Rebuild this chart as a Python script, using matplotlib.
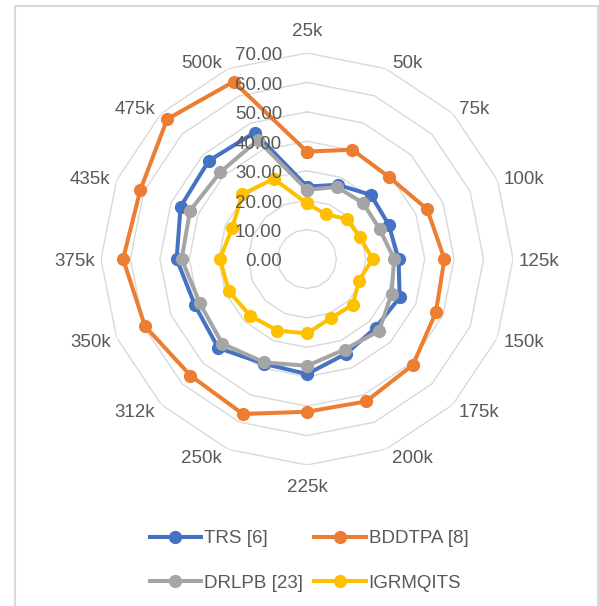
import numpy as np
import matplotlib
matplotlib.use('Agg')
import matplotlib.pyplot as plt
from matplotlib.patches import Rectangle

plt.rcParams['font.family'] = ['Liberation Sans', 'DejaVu Sans']

# 数据
categories = ['25k', '50k', '75k', '100k', '125k', '150k', '175k', '200k',
              '225k', '250k', '312k', '350k', '375k', '435k', '475k', '500k']
trs = [24.6, 27.3, 30.8, 30.1, 31.1, 34.1, 33.0, 34.8,
       39.1, 38.5, 42.7, 41.2, 44.3, 46.5, 47.2, 46.5]
bddtpa = [36.5, 40.2, 39.4, 44.2, 46.7, 47.4, 50.9, 52.4,
          51.9, 57.0, 56.0, 59.6, 62.5, 61.3, 67.2, 65.2]
drlpb = [23.5, 26.5, 26.9, 26.7, 29.6, 31.1, 34.6, 33.3,
         36.3, 38.0, 40.7, 39.4, 42.6, 43.0, 41.7, 43.7]
igrmqits = [18.9, 16.5, 19.2, 19.4, 22.3, 19.1, 22.0, 21.6,
            25.3, 26.3, 27.3, 28.7, 29.6, 27.5, 31.1, 29.5]
r_ticks = [0, 10, 20, 30, 40, 50, 60, 70]

series = [('TRS [6]', trs, '#4472C4'),
          ('BDDTPA [8]', bddtpa, '#ED7D31'),
          ('DRLPB [23]', drlpb, '#A5A5A5'),
          ('IGRMQITS', igrmqits, '#FFC000')]

n = len(categories)
theta = np.arange(n) * 2 * np.pi / n
theta_c = np.append(theta, theta[0])
rmax = r_ticks[-1]
txt_color = '#595959'
fs = 13.5

fig = plt.figure(figsize=(5.99, 6.06), dpi=100)
ax = fig.add_axes([101 / 599, 141 / 606, 412 / 599, 412 / 606], projection='polar')
ax.set_theta_zero_location('N')
ax.set_theta_direction(-1)
ax.set_ylim(0, rmax)
ax.grid(False)
ax.set_xticks([])
ax.set_yticks([])
ax.spines['polar'].set_visible(False)
ax.patch.set_alpha(0)

# 多边形网格
for v in r_ticks[1:]:
    ax.plot(theta_c, [v] * (n + 1), color='#D9D9D9', lw=1.0, zorder=1)

# 径向刻度标签
for v in r_ticks:
    ax.annotate(f'{v:.2f}', xy=(0, v), xytext=(-25, -3), textcoords='offset pixels',
                ha='right', va='center', fontsize=fs, color=txt_color, zorder=5)

# 分类标签
for t, lab in zip(theta, categories):
    s, c = np.sin(t), np.cos(t)
    if abs(s) < 0.1:
        ha = 'center'
        dx = 0
        dy = 21 if c > 0 else -23
    else:
        ha = 'left' if s > 0 else 'right'
        dx = 6 if s > 0 else -6
        dy = 8 * c - 2
    ax.annotate(lab, xy=(t, rmax), xytext=(dx, dy), textcoords='offset pixels',
                ha=ha, va='center', fontsize=fs, color=txt_color, annotation_clip=False)

# 数据系列
handles = {}
for name, vals, col in series:
    line, = ax.plot(theta_c, list(vals) + [vals[0]], color=col, lw=2.9,
                    marker='o', markersize=8.5, label=name, zorder=3, clip_on=False)
    handles[name] = line

order = ['TRS [6]', 'DRLPB [23]', 'BDDTPA [8]', 'IGRMQITS']
fig.legend([handles[k] for k in order], order, loc='center', ncol=2,
           bbox_to_anchor=(309 / 599, 1 - 561 / 606), frameon=False,
           fontsize=fs, labelcolor=txt_color, handlelength=2.75, handletextpad=0.15,
           columnspacing=0.6, labelspacing=1.45)

# 图表边框
fig.patches.append(Rectangle((15 / 599, -0.05), 583 / 599, 1.05 - 6 / 606,
                             transform=fig.transFigure, fill=False,
                             edgecolor='#D9D9D9', lw=1.5))

fig.savefig('out.png', dpi=100)
